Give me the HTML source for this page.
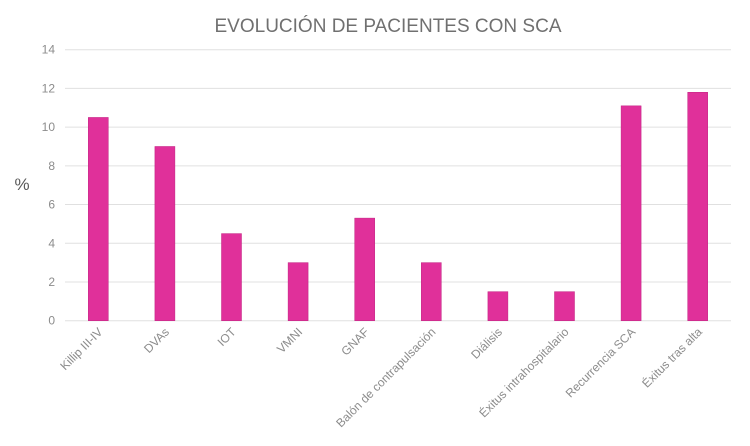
<!DOCTYPE html>
<html><head><meta charset="utf-8"><style>
body{margin:0;background:#fff;font-family:"Liberation Sans",sans-serif}
svg text{font-family:"Liberation Sans",sans-serif}
</style></head><body>
<svg width="750" height="441">
<text x="388" y="32" text-anchor="middle" font-size="19" fill="#707070" font-weight="300">EVOLUCIÓN DE PACIENTES CON SCA</text>
<text x="22" y="190" text-anchor="middle" font-size="17" fill="#595959">%</text>
<g id="grid"></g><g id="bars"></g><g id="labels"></g>
</svg>
<script>
const categories=["Killip III-IV","DVAs","IOT","VMNI","GNAF","Balón de contrapulsación","Diálisis","Éxitus intrahospitalario","Recurrencia SCA","Éxitus tras alta"];
const values=[10.5,9,4.5,3,5.3,3,1.5,1.5,11.1,11.8];
const yTicks=[0,2,4,6,8,10,12,14];
const NS="http://www.w3.org/2000/svg";
const left=65,right=731,y0=320.7,y14=49.7;
const y=v=>y0-(v/14)*(y0-y14);
const step=(right-left)/categories.length;
const x=i=>left+step*(i+0.5);
function mk(t,a,p){const e=document.createElementNS(NS,t);for(const k in a)e.setAttribute(k,a[k]);p.appendChild(e);return e;}
const g=document.getElementById('grid'),b=document.getElementById('bars'),l=document.getElementById('labels');
yTicks.forEach(t=>{
 const ln=mk('line',{x1:left,x2:right,y1:y(t),y2:y(t),stroke:'#e0e0e0','stroke-width':1},g);
 
 
 const tx=mk('text',{x:55,y:y(t)+4,'text-anchor':'end','font-size':12,fill:'#8c8c8c'},g);
 tx.textContent=t;
 
 
});
values.forEach((v,i)=>{
 const r=mk('rect',{x:x(i)-10,y:y(v),width:20,height:y0-y(v),fill:'#e0309a',stroke:'#c02080','stroke-width':0.5},b);
 
 
 const tx=mk('text',{x:0,y:0,'text-anchor':'end','font-size':12,fill:'#8c8c8c',transform:`translate(${x(i)+5},${y0+12}) rotate(-45)`},l);
 tx.textContent=categories[i];
 
 
});
</script>
</body></html>
